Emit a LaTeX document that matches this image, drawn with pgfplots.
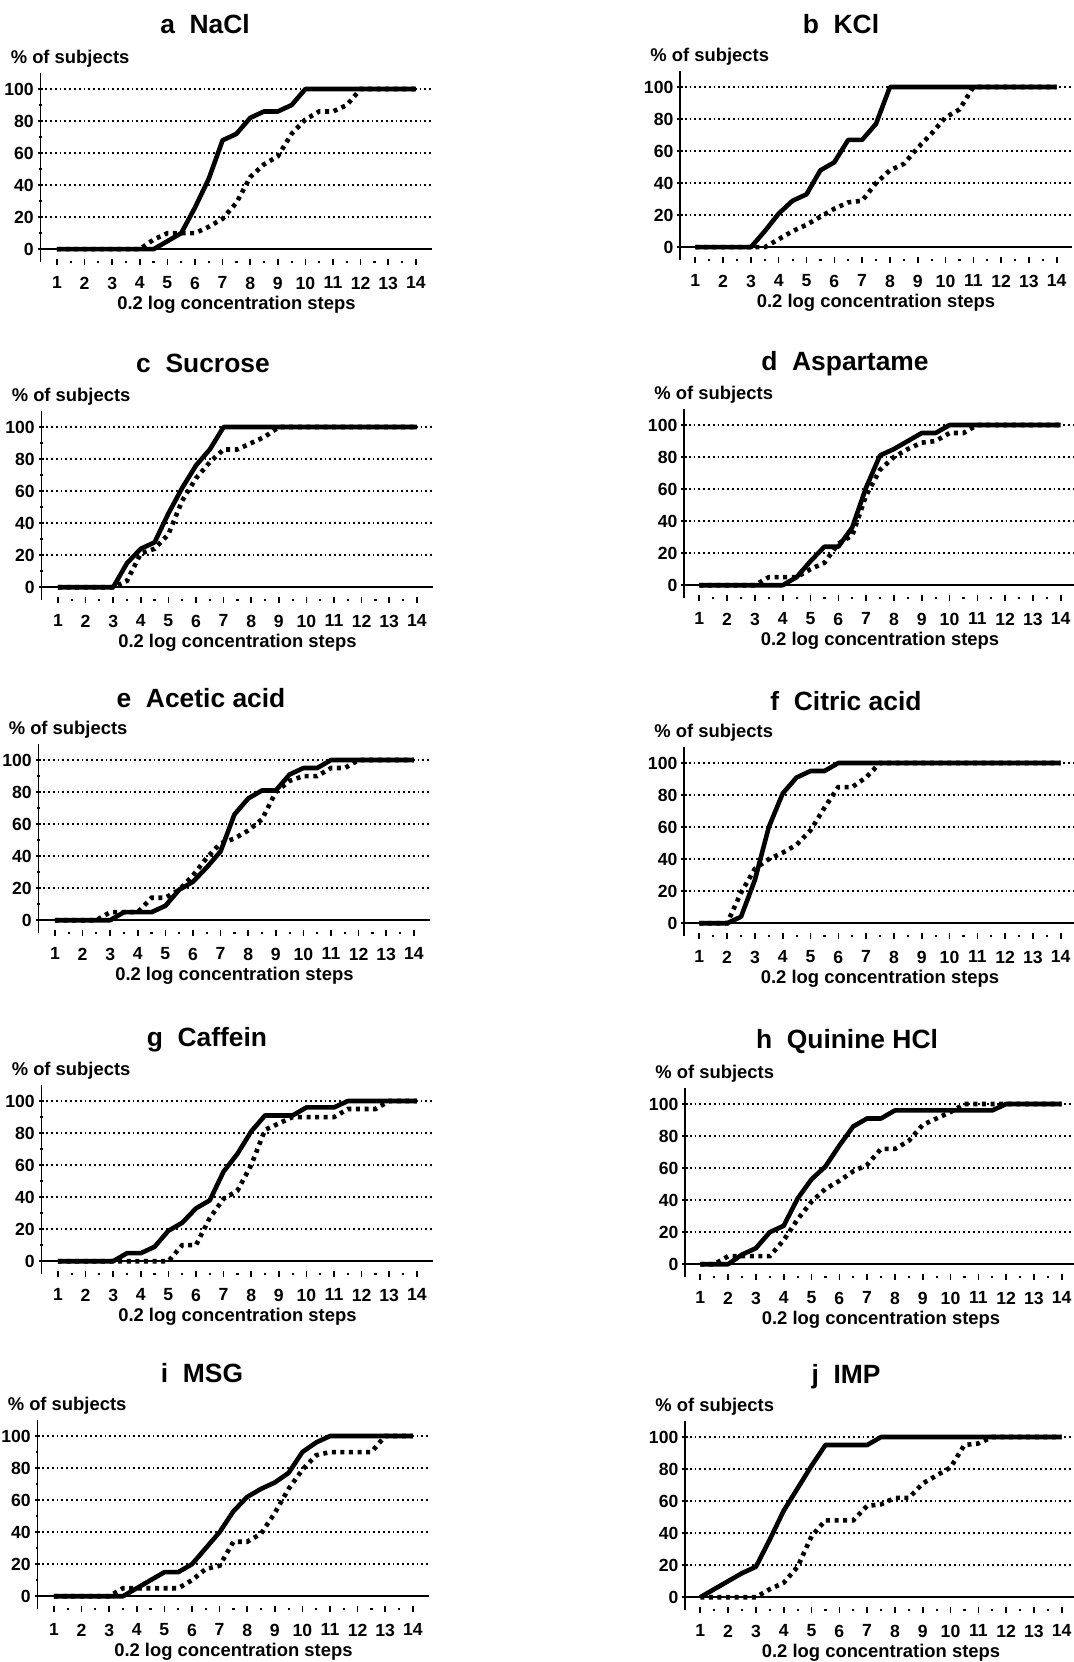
\documentclass[border=0pt]{standalone}
\usepackage{fontspec}
\setmainfont{Liberation Sans}
\usepackage{pgfplots}
\pgfplotsset{compat=1.18}

\pgfplotsset{
 panel/.style={
  scale only axis, width=196pt, height=94.5pt, anchor=south west,
  ymin=-8, ymax=110, clip=false,
  axis x line*=bottom, axis y line*=left,
  x axis line style={draw=none},
  y axis line style={line width=0.8pt},
  xtick={1,...,14}, minor xtick={1.5,2.5,...,13.5},
  ytick={20,40,60,80,100}, minor ytick={10,30,50,70,90},
  extra y ticks={0},
  extra y tick style={grid=major, major grid style={solid, line width=0.8pt, black}},
  ymajorgrids, major grid style={line width=0.75pt, dash pattern=on 0.9pt off 1.5pt, black},
  xtick align=center, ytick align=center,
  major tick length=2.6pt, minor tick length=1.1pt,
  every tick/.style={black, line width=0.8pt},
  minor tick style={line width=1.1pt},
  /pgf/number format/assume math mode=true,
  ticklabel style={font=\fontsize{8.8}{10}\selectfont\bfseries},
  xticklabel style={yshift=-2.6pt},
  yticklabel style={xshift=1.5pt},
  xlabel={0.2 log concentration steps},
  xlabel style={at={(axis description cs:0.5,0)}, anchor=center, yshift=-21.5pt, font=\fontsize{9.2}{10}\selectfont\bfseries},
 },
 leftp/.style={panel, xmin=0.4, xmax=14.6},
 rightp/.style={panel, xmin=0.45, xmax=14.55},
 sol/.style={black, line width=2.3pt, line join=round, mark=none},
 dot/.style={black, line width=2.3pt, dash pattern=on 2pt off 2.3pt, mark=none},
}
\newcommand{\ylab}{\node[anchor=west, inner sep=0pt, font=\fontsize{9.2}{10}\selectfont\bfseries] at (rel axis cs:0,1) [xshift=-15pt, yshift=7pt] {\% of subjects};}
\newcommand{\ttl}[2]{\node[anchor=base, inner sep=0pt, font=\fontsize{13.2}{15}\selectfont\bfseries] at #1 {#2};}

\begin{document}
\begin{tikzpicture}
\useasboundingbox (0,0) rectangle (537pt,-831pt);

% a NaCl
\begin{axis}[leftp, at={(20.2pt,-131pt)}]
\addplot[dot] coordinates {(1,0)(4,0)(4.5,6)(5,10)(5.5,10)(6,10)(6.5,14)(7,19)(7.5,29)(8,45)(8.5,53)(9,58)(9.5,72)(10,81)(10.5,86)(11,86)(11.5,90)(12,100)(14,100)};
\addplot[sol] coordinates {(1,0)(4.5,0)(5,5)(5.5,10)(6,26)(6.5,44)(7,68)(7.5,72)(8,82)(8.5,86)(9,86)(9.5,90)(10,100)(14,100)};
\ylab
\end{axis}

% b KCl
\begin{axis}[rightp, at={(340pt,-130pt)}]
\addplot[dot] coordinates {(1,0)(3.5,0)(4,5)(4.5,10)(5,14)(5.5,19)(6,24)(6.5,28)(7,29)(7.5,40)(8,48)(8.5,52)(9,62)(9.5,71)(10,81)(10.5,86)(11,100)(14,100)};
\addplot[sol] coordinates {(1,0)(3,0)(3.5,10)(4,21)(4.5,29)(5,33)(5.5,48)(6,53)(6.5,67)(7,67)(7.5,77)(8,100)(14,100)};
\ylab
\end{axis}

% c Sucrose
\begin{axis}[leftp, at={(20.7pt,-300pt)}]
\addplot[dot] coordinates {(1,0)(3,0)(3.5,4)(4,21)(4.5,24)(5,33)(5.5,54)(6,68)(6.5,78)(7,86)(7.5,86)(8,90)(8.5,94)(9,100)(14,100)};
\addplot[sol] coordinates {(1,0)(3,0)(3.5,15)(4,24)(4.5,28)(5,46)(5.5,62)(6,76)(6.5,86)(7,100)(14,100)};
\ylab
\end{axis}

% d Aspartame
\begin{axis}[rightp, at={(342pt,-299pt)}]
\addplot[dot] coordinates {(1,0)(3,0)(3.5,5)(4,5)(4.5,5)(5,10)(5.5,14)(6,26)(6.5,31)(7,56)(7.5,72)(8,80)(8.5,85)(9,89)(9.5,90)(10,95)(10.5,95)(11,100)(14,100)};
\addplot[sol] coordinates {(1,0)(4,0)(4.5,5)(5,15)(5.5,24)(6,24)(6.5,36)(7,61)(7.5,81)(8,85)(8.5,90)(9,95)(9.5,95)(10,100)(14,100)};
\ylab
\end{axis}

% e Acetic acid
\begin{axis}[leftp, at={(19.2pt,-466.5pt)}]
\addplot[dot] coordinates {(1,0)(2.5,0)(3,5)(3.5,5)(4,5)(4.5,14)(5,14)(5.5,19)(6,28)(6.5,39)(7,48)(7.5,51)(8,56)(8.5,63)(9,80)(9.5,87)(10,90)(10.5,90)(11,95)(11.5,95)(12,100)(14,100)};
\addplot[sol] coordinates {(1,0)(3,0)(3.5,5)(4,5)(4.5,5)(5,9)(5.5,19)(6,24)(6.5,33)(7,43)(7.5,66)(8,76)(8.5,81)(9,81)(9.5,91)(10,95)(10.5,95)(11,100)(14,100)};
\ylab
\end{axis}

% f Citric acid
\begin{axis}[rightp, at={(342pt,-468pt)}]
\addplot[dot] coordinates {(1,0)(2,0)(2.5,19)(3,34)(3.5,40)(4,44)(4.5,49)(5,58)(5.5,72)(6,85)(6.5,85)(7,91)(7.5,100)(14,100)};
\addplot[sol] coordinates {(1,0)(2,0)(2.5,4)(3,27)(3.5,60)(4,81)(4.5,91)(5,95)(5.5,95)(6,100)(14,100)};
\ylab
\end{axis}

% g Caffein
\begin{axis}[leftp, at={(20.7pt,-637pt)}]
\addplot[dot] coordinates {(1,0)(5,0)(5.5,10)(6,10)(6.5,27)(7,39)(7.5,44)(8,60)(8.5,82)(9,86)(9.5,90)(10,90)(10.5,90)(11,90)(11.5,95)(12,95)(12.5,95)(13,100)(14,100)};
\addplot[sol] coordinates {(1,0)(3,0)(3.5,5)(4,5)(4.5,9)(5,19)(5.5,24)(6,33)(6.5,38)(7,56)(7.5,67)(8,81)(8.5,91)(9,91)(9.5,91)(10,96)(10.5,96)(11,96)(11.5,100)(14,100)};
\ylab
\end{axis}

% h Quinine HCl
\begin{axis}[rightp, at={(342.5pt,-638.5pt)}]
\addplot[dot] coordinates {(1,0)(1.5,0)(2,5)(2.5,5)(3,5)(3.5,5)(4,15)(4.5,28)(5,39)(5.5,47)(6,52)(6.5,58)(7,62)(7.5,72)(8,72)(8.5,77)(9,87)(9.5,91)(10,95)(10.5,100)(14,100)};
\addplot[sol] coordinates {(1,0)(2,0)(2.5,6)(3,10)(3.5,20)(4,24)(4.5,41)(5,53)(5.5,61)(6,74)(6.5,86)(7,91)(7.5,91)(8,96)(9,96)(10,96)(11,96)(11.5,96)(12,100)(14,100)};
\ylab
\end{axis}

% i MSG
\begin{axis}[leftp, at={(18.7pt,-804.5pt)}]
\addplot[dot] coordinates {(1,0)(3,0)(3.5,5)(4,5)(4.5,5)(5,5)(5.5,5)(6,10)(6.5,17)(7,19)(7.5,34)(8,34)(8.5,39)(9,52)(9.5,67)(10,79)(10.5,88)(11,90)(11.5,90)(12,90)(12.5,90)(13,100)(14,100)};
\addplot[sol] coordinates {(1,0)(3.5,0)(4,5)(4.5,10)(5,15)(5.5,15)(6,20)(6.5,30)(7,40)(7.5,53)(8,62)(8.5,67)(9,71)(9.5,77)(10,90)(10.5,96)(11,100)(14,100)};
\ylab
\end{axis}

% j IMP
\begin{axis}[rightp, at={(342.5pt,-805pt)}]
\addplot[dot] coordinates {(1,0)(3,0)(3.5,5)(4,9)(4.5,19)(5,38)(5.5,48)(6,48)(6.5,48)(7,57)(7.5,58)(8,62)(8.5,62)(9,71)(9.5,76)(10,81)(10.5,95)(11,96)(11.5,100)(14,100)};
\addplot[sol] coordinates {(1,0)(1.5,5)(2,10)(2.5,15)(3,19)(3.5,36)(4,54)(4.5,68)(5,82)(5.5,95)(6,95)(6.5,95)(7,95)(7.5,100)(14,100)};
\ylab
\end{axis}

\ttl{(102.5pt,-16.5pt)}{a\ \ NaCl}
\ttl{(420.5pt,-16.5pt)}{b\ \ KCl}
\ttl{(101.5pt,-186pt)}{c\ \ Sucrose}
\ttl{(422.5pt,-185pt)}{d\ \ Aspartame}
\ttl{(100.5pt,-353.5pt)}{e\ \ Acetic acid}
\ttl{(423pt,-355pt)}{f\ \ Citric acid}
\ttl{(103.5pt,-523pt)}{g\ \ Caffein}
\ttl{(423.5pt,-524pt)}{h\ \ Quinine HCl}
\ttl{(101pt,-691pt)}{i\ \ MSG}
\ttl{(423pt,-691.5pt)}{j\ \ IMP}
\end{tikzpicture}
\end{document}
